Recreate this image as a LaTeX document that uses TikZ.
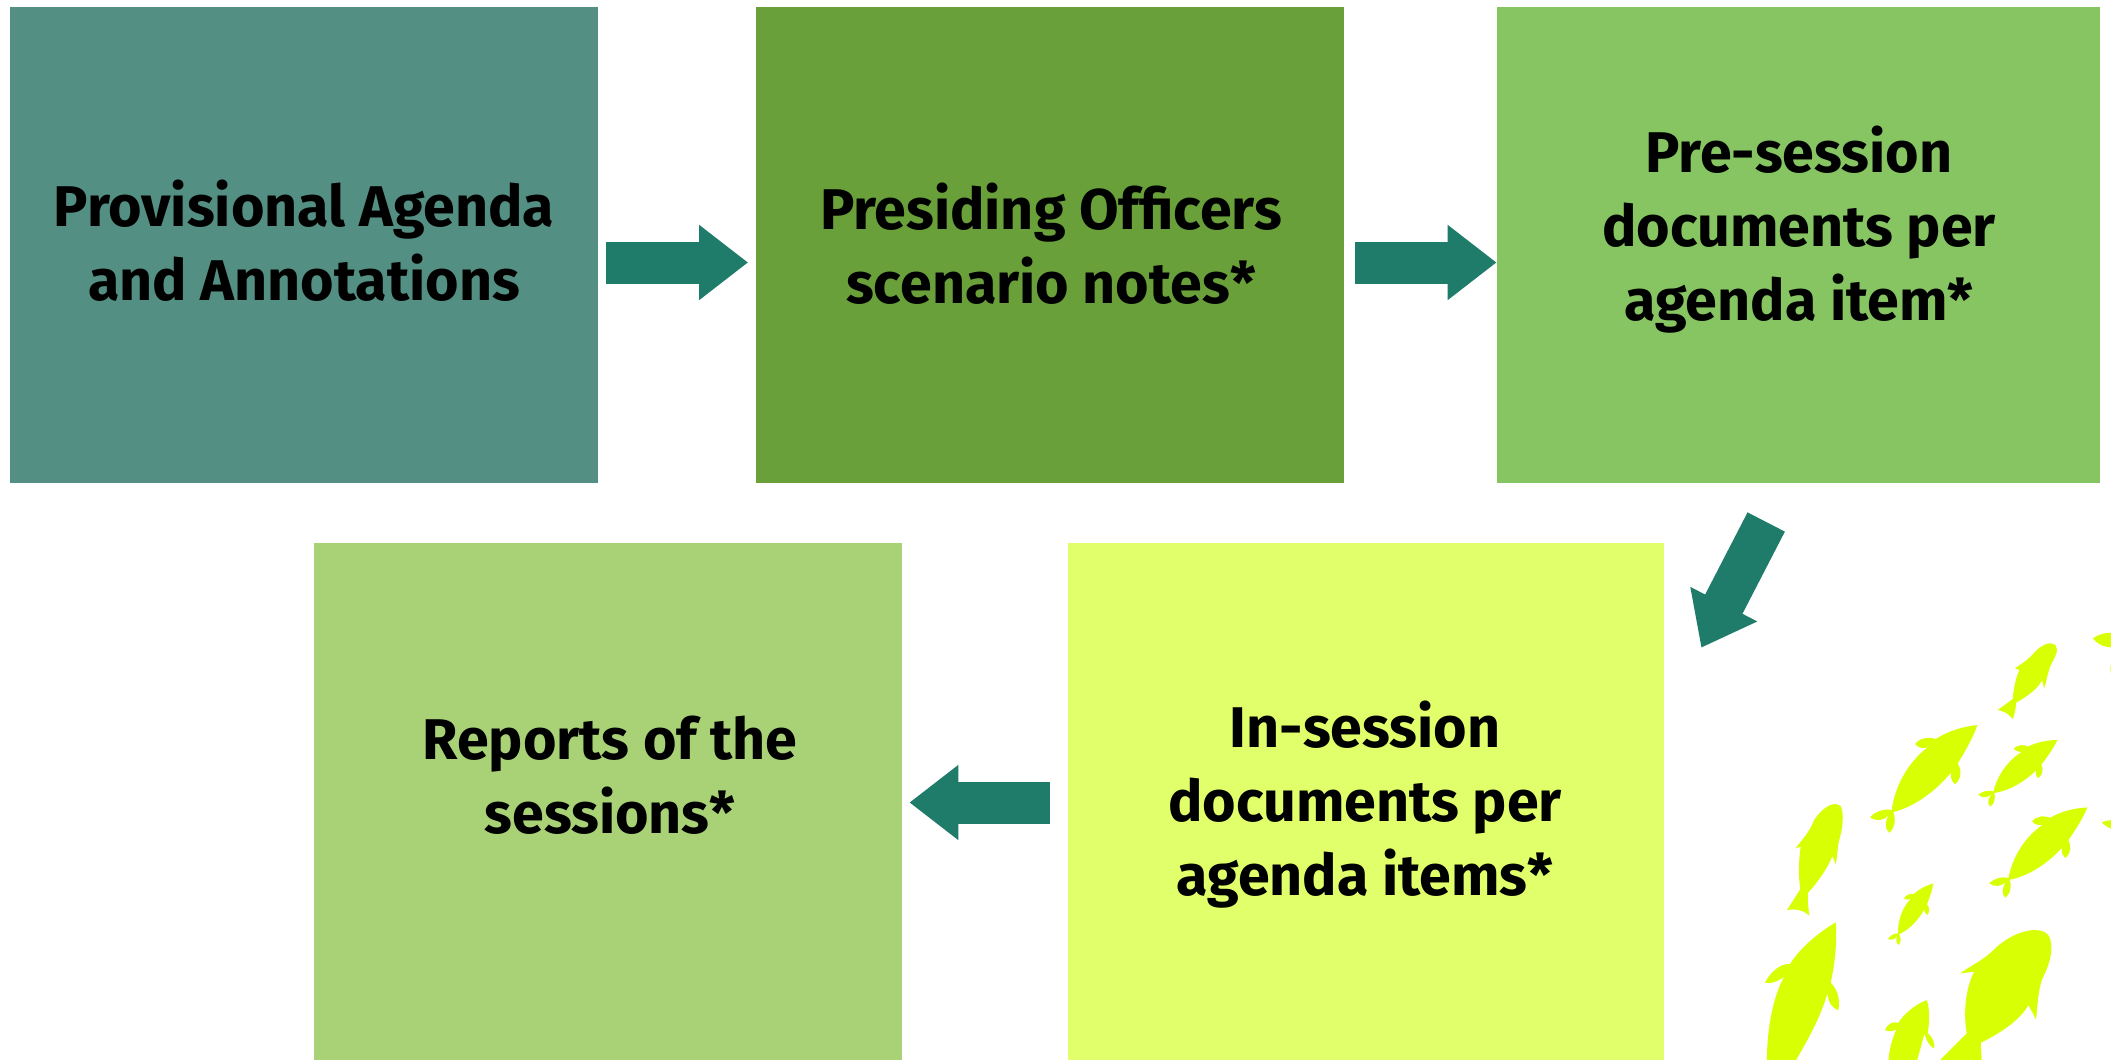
\documentclass[tikz,border=0pt]{standalone}
\usepackage{fontspec}
\setmainfont{Fira Sans}[UprightFont=* SemiBold,BoldFont=* Bold]
\usetikzlibrary{arrows.meta}
\definecolor{cA}{HTML}{548F83}
\definecolor{cB}{HTML}{6AA03A}
\definecolor{cC}{HTML}{86C562}
\definecolor{cD}{HTML}{A9D277}
\definecolor{cE}{HTML}{E0FF6A}
\definecolor{cArrow}{HTML}{1F7C6B}
\definecolor{cFish}{HTML}{D9FF05}
\tikzset{
 boxA/.style={rectangle,draw=none,inner sep=0pt,minimum width=294pt,minimum height=238pt},
 boxB/.style={rectangle,draw=none,inner sep=0pt,minimum width=294pt,minimum height=258.5pt},
 lbl/.style={align=center,inner sep=0pt,text=black,font=\fontsize{28.7}{37}\selectfont\bfseries},
 flow/.style={draw=cArrow,line width=21pt,-{Triangle[length=24.5pt,width=36pt,fill=cArrow]}},
 fish/.style={fill=cFish,draw=none}
}
\newcommand{\fishA}{%
 \fill[fish] (0,0) .. controls (-47,5) and (-92,20) .. (-125,42)
 .. controls (-142,35) and (-172,37) .. (-187,57)
 .. controls (-177,70) and (-157,72) .. (-147,65)
 .. controls (-212,115) and (-247,185) .. (-257,255)
 .. controls (-282,250) and (-307,260) .. (-322,277)
 .. controls (-302,290) and (-277,287) .. (-262,265)
 .. controls (-277,285) and (-280,310) .. (-265,323)
 .. controls (-247,310) and (-244,285) .. (-252,261)
 .. controls (-187,245) and (-122,195) .. (-80,143)
 .. controls (-80,160) and (-77,170) .. (-67,177)
 .. controls (-47,160) and (-47,135) .. (-59,115)
 .. controls (-37,80) and (-12,35) .. (0,0) -- cycle;}
\begin{document}
\begin{tikzpicture}[x=0.5pt,y=-0.5pt]
\useasboundingbox (0,0) rectangle (2111,1060);
\fill[white] (0,0) rectangle (2111,1060);
% fish
\begin{scope}
\clip (0,0) rectangle (2111,1060);
\begin{scope}[shift={(1740,600)},x=0.1667pt,y=-0.1667pt]
 \begin{scope}[shift={(712,375)}]\fishA\end{scope}
 \begin{scope}[shift={(952,420)},rotate=-6,scale=.68]\fishA\end{scope}
 \begin{scope}[shift={(1042,622)},rotate=-3,scale=.877]\fishA\end{scope}
 \begin{scope}[shift={(580,850)},rotate=10,scale=.507]\fishA\end{scope}
 % round-headed fish
 \fill[fish] (946,135) .. controls (930,122) and (905,135) .. (885,155)
  .. controls (865,180) and (845,190) .. (825,205)
  -- (838,210) .. controls (825,240) and (820,270) .. (818,297)
  -- (773,330) .. controls (790,333) and (805,340) .. (818,357)
  .. controls (825,340) and (828,320) .. (828,308)
  .. controls (860,290) and (895,265) .. (906,240)
  -- (912,265) .. controls (918,250) and (920,230) .. (930,200)
  .. controls (945,170) and (958,150) .. (946,135) -- cycle;
 \fill[fish] (302,618) .. controls (280,600) and (245,625) .. (222,660)
  .. controls (212,690) and (190,715) .. (166,745)
  -- (182,740) .. controls (175,790) and (175,830) .. (181,867)
  -- (141,930) .. controls (165,925) and (190,930) .. (208,947)
  .. controls (205,925) and (202,900) .. (204,878)
  .. controls (235,845) and (265,800) .. (277,768)
  -- (287,792) .. controls (292,770) and (292,745) .. (296,725)
  .. controls (310,680) and (312,640) .. (302,618) -- cycle;
 \fill[fish] (925,1005) .. controls (900,975) and (820,990) .. (760,1050)
  .. controls (730,1080) and (695,1095) .. (660,1120)
  -- (702,1115) .. controls (675,1170) and (670,1240) .. (680,1300)
  -- (595,1385) -- (725,1385) -- (722,1328)
  .. controls (780,1300) and (840,1260) .. (865,1215)
  -- (888,1258) .. controls (892,1220) and (893,1180) .. (905,1140)
  .. controls (930,1090) and (945,1040) .. (925,1005) -- cycle;
 % fish cut off by the lower edge
 \fill[fish] (287,967) .. controls (230,1000) and (175,1050) .. (150,1092)
  .. controls (125,1088) and (90,1115) .. (75,1148)
  .. controls (100,1152) and (120,1140) .. (132,1130)
  .. controls (95,1200) and (82,1290) .. (80,1385)
  -- (165,1385) .. controls (215,1300) and (245,1240) .. (262,1180)
  .. controls (265,1205) and (275,1225) .. (295,1230)
  .. controls (302,1195) and (290,1165) .. (272,1148)
  .. controls (285,1090) and (292,1020) .. (287,967) -- cycle;
 \fill[fish] (560,1200) .. controls (520,1215) and (490,1245) .. (475,1268)
  .. controls (455,1262) and (440,1275) .. (435,1290)
  .. controls (450,1297) and (465,1293) .. (470,1285)
  .. controls (455,1320) and (447,1350) .. (445,1385)
  -- (530,1385) .. controls (540,1350) and (548,1320) .. (553,1300)
  .. controls (560,1325) and (570,1340) .. (583,1345)
  .. controls (585,1325) and (575,1310) .. (563,1298)
  .. controls (570,1260) and (568,1220) .. (560,1200) -- cycle;
 % fish cut off by the right edge
 \fill[fish] (1058,115) .. controls (1075,103) and (1095,98) .. (1116,98)
  -- (1116,142) .. controls (1095,142) and (1075,135) .. (1058,115) -- cycle;
 \fill[fish] (1116,185) .. controls (1110,195) and (1108,215) .. (1116,228) -- cycle;
 \fill[fish] (1085,668) .. controls (1095,662) and (1105,660) .. (1116,660)
  -- (1116,688) .. controls (1105,682) and (1095,676) .. (1085,668) -- cycle;
\end{scope}
\end{scope}
% boxes
\node[boxA,fill=cA] (box1) at (304,245) {};
\node[boxA,fill=cB] (box2) at (1049.5,245) {};
\node[boxA,fill=cC,minimum width=301.5pt] (box3) at (1798.5,245) {};
\node[boxB,fill=cD] (box4) at (608,801.5) {};
\node[boxB,fill=cE,minimum width=298pt] (box5) at (1366,801.5) {};
% labels
\node[lbl] (t1) at (304,241) {Provisional Agenda\\and Annotations};
\node[lbl] (t2) at (1051,244) {Presiding Officers\\scenario notes*};
\node[lbl] (t3) at (1799,230) {Pre-session\\documents per\\agenda item*};
\node[lbl] (t4) at (610,775) {Reports of the\\sessions*};
\node[lbl] (t5) at (1365,805) {In-session\\documents per\\agenda items*};
% connectors
\coordinate (rowTop) at (0,262.5);
\coordinate (rowBot) at (0,802.5);
\coordinate (diagS) at (1766.2,522);
\coordinate (diagE) at (1701.3,647.7);
\draw[flow,shorten <=4pt,shorten >=3.5pt] (box1.east |- rowTop) -- (box2.west |- rowTop);
\draw[flow,shorten <=5.5pt,shorten >=0pt] (box2.east |- rowTop) -- (box3.west |- rowTop);
\draw[flow] (diagS) -- (diagE);
\draw[flow,shorten <=9pt,shorten >=3.5pt] (box5.west |- rowBot) -- (box4.east |- rowBot);
\end{tikzpicture}
\end{document}
